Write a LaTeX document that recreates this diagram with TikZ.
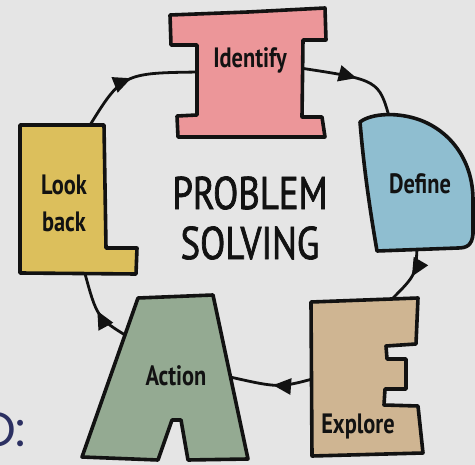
\documentclass[tikz,border=0pt]{standalone}
\usepackage{fontspec}
\newfontfamily\handfont[FakeStretch=0.8]{PT Sans}
\newfontfamily\titlehand[FakeStretch=0.8,FakeBold=1.5]{PT Sans}
\newfontfamily\gothfont{Poppins}
\usetikzlibrary{arrows.meta,decorations.markings}
\definecolor{bg}{RGB}{229,229,229}
\definecolor{ink}{RGB}{18,18,18}
\definecolor{pinkI}{RGB}{236,150,153}
\definecolor{blueD}{RGB}{143,190,208}
\definecolor{yellowL}{RGB}{220,191,92}
\definecolor{greenA}{RGB}{148,170,146}
\definecolor{tanE}{RGB}{207,181,146}
\definecolor{navy}{RGB}{44,48,98}
\begin{document}
\begin{tikzpicture}[x=1pt,y=-1pt,
  letter/.style={draw=ink, line width=3.6pt, line join=round},
  lbl/.style={font=\handfont\bfseries\fontsize{28}{37}\selectfont, text=ink, inner sep=0pt, align=center},
  cycleline/.style={draw=ink, line width=2.8pt, postaction={decorate},
    decoration={markings, mark=at position 0.5 with {\arrow{Triangle[length=18pt,width=16pt]}}}}]
\fill[bg] (0,0) rectangle (475,465);
\clip (0,0) rectangle (475,465);

% connector end points and control points
\coordinate (i-r) at (300,68);
\coordinate (c1) at (379,80);
\coordinate (d-t) at (390,120);
\coordinate (d-b) at (417,246);
\coordinate (c2) at (416,275);
\coordinate (e-t) at (391,300);
\coordinate (e-l) at (316,378);
\coordinate (c3) at (279,388);
\coordinate (a-r) at (230,377);
\coordinate (a-l) at (130,338);
\coordinate (c4) at (97,318);
\coordinate (l-b) at (84,270);
\coordinate (l-t) at (87,130);
\coordinate (c5) at (122,73);
\coordinate (i-l) at (200,72);

\draw[cycleline] (i-r) .. controls (c1) .. (d-t);
\draw[cycleline] (d-b) .. controls (c2) .. (e-t);
\draw[cycleline] (e-l) .. controls (c3) .. (a-r);
\draw[cycleline] (a-l) .. controls (c4) .. (l-b);
\draw[cycleline] (l-t) .. controls (c5) .. (i-l);

% I
\path[letter, fill=pinkI] (170,15) -- (248,12) -- (325,8) -- (326,40) -- (303,40) -- (302,117)
  -- (322,117) -- (325,137) -- (178,137) -- (177,116) -- (197,115) -- (197,45) -- (171,45) -- cycle;
% D
\path[letter, fill=blueD] (360,122) .. controls (372,113) and (398,112) .. (420,120)
  .. controls (452,132) and (473,162) .. (473,200) -- (473,234)
  .. controls (472,245) and (467,248) .. (458,248) -- (377,251)
  .. controls (370,210) and (364,170) .. cycle;
% L
\path[letter, fill=yellowL] (20,125) -- (104,125) -- (106,248) -- (137,248) -- (136,274)
  -- (20,273) -- cycle;
% A
\path[letter, fill=greenA] (138,298) -- (213,295) -- (248,459) -- (188,460) -- (181,420)
  -- (172,420) -- (158,460) -- (82,457) -- cycle;
% E
\path[letter, fill=tanE] (311,302) -- (418,298) -- (416,344) -- (386,346) -- (387,359)
  -- (406,359) -- (406,389) -- (385,389) -- (384,405) -- (418,406) -- (423,453)
  -- (312,456) -- cycle;

% labels
\node[lbl] (identify) at (250,60) {Identify};
\node[lbl] (define) at (420,184) {Define};
\node[lbl] (lookback) at (64,203) {Look\\back};
\node[lbl] (action) at (176,376) {Action};
\node[lbl] (explore) at (358,427) {Explore};
\node[lbl, font=\titlehand\fontsize{46}{50}\selectfont] (title) at (250,218) {PROBLEM\\SOLVING};

\node[anchor=base west, inner sep=0pt, text=navy, font=\gothfont\fontsize{48}{50}\selectfont]
  (cut) at (-22,447) {O:};
\end{tikzpicture}
\end{document}
